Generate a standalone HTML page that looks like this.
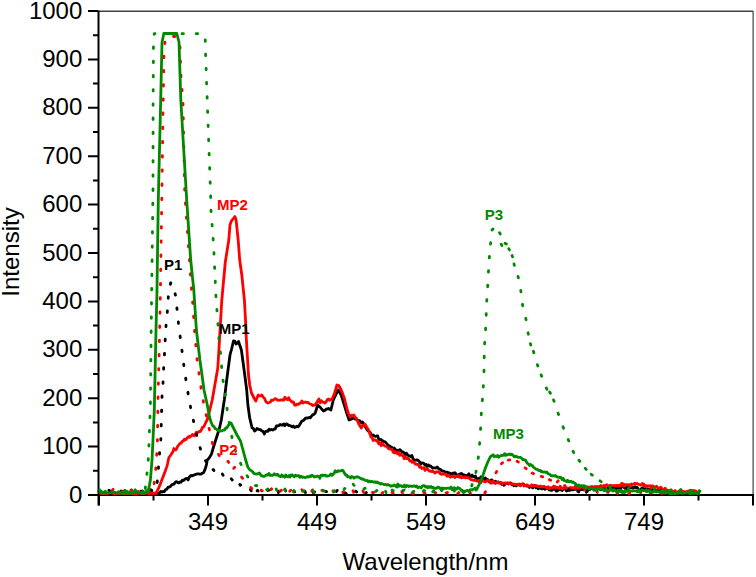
<!DOCTYPE html><html><head><meta charset="utf-8"><style>html,body{margin:0;padding:0;background:#fff;}svg{display:block;}text{font-family:"Liberation Sans",sans-serif;}</style></head><body>
<svg width="756" height="577" viewBox="0 0 756 577">
<rect width="756" height="577" fill="#fff"/>
<path d="M99 11.2H753.1" stroke="#3c4444" stroke-width="1.4" fill="none"/>
<path d="M753.1 11V495" stroke="#4a5656" stroke-width="1.3" fill="none"/>
<path d="M88 495.0H98 M93 470.8H98 M88 446.6H98 M93 422.4H98 M88 398.2H98 M93 374.0H98 M88 349.8H98 M93 325.6H98 M88 301.4H98 M93 277.2H98 M88 253.0H98 M93 228.8H98 M88 204.6H98 M93 180.4H98 M88 156.2H98 M93 132.0H98 M88 107.8H98 M93 83.6H98 M88 59.4H98 M93 35.2H98 M88 11.0H98 M99.0 494V505.5 M153.5 494V500.5 M208.0 494V505.5 M262.5 494V500.5 M317.0 494V505.5 M371.5 494V500.5 M426.0 494V505.5 M480.5 494V500.5 M535.0 494V505.5 M589.5 494V500.5 M644.0 494V505.5 M698.5 494V500.5 M753.0 494V505.5" stroke="#000" stroke-width="2" fill="none"/>
<path d="M98.5 10.5V505.5M97.5 495H753" stroke="#000" stroke-width="2" fill="none"/>
<text x="82.3" y="502.6" font-size="24" text-anchor="end">0</text>
<text x="82.3" y="454.2" font-size="24" text-anchor="end">100</text>
<text x="82.3" y="405.8" font-size="24" text-anchor="end">200</text>
<text x="82.3" y="357.4" font-size="24" text-anchor="end">300</text>
<text x="82.3" y="309.0" font-size="24" text-anchor="end">400</text>
<text x="82.3" y="260.6" font-size="24" text-anchor="end">500</text>
<text x="82.3" y="212.2" font-size="24" text-anchor="end">600</text>
<text x="82.3" y="163.8" font-size="24" text-anchor="end">700</text>
<text x="82.3" y="115.4" font-size="24" text-anchor="end">800</text>
<text x="82.3" y="67.0" font-size="24" text-anchor="end">900</text>
<text x="82.3" y="18.6" font-size="24" text-anchor="end">1000</text>
<text x="208.0" y="530" font-size="24" text-anchor="middle">349</text>
<text x="317.0" y="530" font-size="24" text-anchor="middle">449</text>
<text x="426.0" y="530" font-size="24" text-anchor="middle">549</text>
<text x="535.0" y="530" font-size="24" text-anchor="middle">649</text>
<text x="644.0" y="530" font-size="24" text-anchor="middle">749</text>
<text x="425.5" y="570" font-size="24" text-anchor="middle">Wavelength/nm</text>
<text transform="translate(19 252) rotate(-90)" font-size="24" text-anchor="middle">Intensity</text>
<path d="M99 494 L156.6 494 L159.6 492.8 L160.8 491.4 L162 492.2 L163.2 491.4 L164.4 491.5 L165.6 489.5 L166.8 489.2 L168 487.2 L169.3 487.2 L170.5 486.3 L172 484.7 L173 484.4 L174 484.2 L175 482.6 L176 481.7 L177.1 481.8 L178.1 482.9 L179.2 482.8 L180.2 481.9 L181.2 482.1 L182.3 480.2 L183.5 480.5 L184.8 479.2 L186 478.6 L187.2 478.4 L188.2 479.9 L189.2 477.1 L190.2 476.2 L191.2 475.4 L192.2 475.9 L193.2 475.3 L194.3 475 L195.3 474.3 L196.4 474.1 L197.5 473.8 L198.7 473.9 L199.9 474.1 L201.1 474.2 L202.3 473.2 L203.6 472.6 L205.4 468.4 L206.6 464.1 L207.2 460 L208.4 458.9 L209.6 457.4 L211.5 454 L213.5 447 L217 436 L219.5 428 L221.3 420 L224.3 400 L226.7 380 L230 355 L231.6 349 L233.5 341 L234.8 341.1 L236 344 L237.2 343.3 L238.5 341.5 L241.4 350 L244.1 370 L244.9 376 L246.7 390 L247.9 405 L249.7 418 L252.1 428 L253.3 428.4 L254.6 431 L255.8 430.2 L257 428.5 L258.2 429 L259.4 429.7 L260.6 429.7 L261.8 431 L263 431.3 L264.3 434 L265.5 431.5 L266.7 431.1 L267.9 431.4 L269.1 429.3 L270.3 430 L271.5 429.5 L272.8 430 L274 429.2 L275.2 429 L276.4 426 L277.6 426 L278.9 425.6 L280.1 424.4 L281.3 425 L282.5 425.2 L283.7 423.9 L284.9 425.7 L286.1 424 L287.3 424.1 L288.6 425.5 L289.8 425.5 L291 426 L292.2 427 L293.4 426 L294.6 427.5 L295.8 427 L297 426.2 L298.3 426.7 L299.5 425 L301.9 421 L303.1 420.7 L304.3 419.6 L305.5 418.1 L306.7 418 L307.9 418.1 L309.1 417.4 L310.4 417.8 L311.6 416 L312.8 414.7 L314 414.4 L315.2 413 L317.7 405 L318.9 406.4 L320.1 407 L321.3 408.6 L322.4 409.8 L323.6 411 L324.8 410.5 L326.1 409.2 L327.3 409 L328.5 408.5 L329.7 409.3 L330.9 410 L333.3 400 L338.2 390 L341.2 395 L344.3 405 L346.7 413 L349.1 420 L350.3 419.5 L351.6 419.2 L352.8 417 L354 418.4 L355.2 419.2 L356.4 419 L357.4 420.1 L358.4 420.6 L359.4 420.6 L360.5 421.6 L361.5 422.9 L362.5 422 L367.3 430 L368.5 431.1 L369.8 432.1 L371 434 L372.1 436 L373.2 435 L374.4 436 L375.5 436.3 L376.6 436 L377.7 435.9 L378.8 439.6 L379.9 439.9 L381 439.5 L382.1 440.8 L383.2 441 L384.3 441.9 L385.4 442 L386.5 443.4 L387.6 444.6 L388.7 446.1 L389.8 446 L390.9 447.2 L392 447.4 L393.1 449.1 L394.3 448.1 L395.4 450 L396.5 450 L397.6 451.2 L398.7 450.4 L399.8 449.6 L400.9 450.6 L402 451.9 L403.1 452 L404.2 453.1 L405.3 454.6 L406.4 453.2 L407.5 454.7 L408.6 455.9 L409.7 456 L410.8 456.5 L411.9 455.4 L413 458.6 L414.1 460.5 L415.2 460.1 L416.3 460 L417.4 459.8 L418.5 460.7 L419.6 461.7 L420.7 464 L421.8 463 L422.9 463 L424 463.6 L425.1 465.2 L426.2 464.4 L427.3 466.5 L428.4 465 L429.5 466 L430.6 466 L431.7 467.2 L432.8 468.1 L433.9 467.9 L435 467.9 L436.1 468 L437.2 467 L438.3 468.4 L439.5 469 L440.6 469.6 L441.7 471 L442.8 471 L443.9 471.1 L445 472.3 L446.1 472.1 L447.2 472.1 L448.3 472.8 L449.4 473 L450.5 473.5 L451.6 474 L452.7 473.1 L453.8 473.5 L454.9 472.7 L456 474 L457.1 475.4 L458.2 475.3 L459.3 474.1 L460.4 474 L461.5 473.4 L462.6 474.5 L463.7 474.8 L464.7 475.1 L465.8 476.9 L466.8 475.5 L467.9 474.9 L469 473.8 L470 477.1 L471.1 476.3 L472.1 475.1 L473.2 476.6 L474.3 477 L475.4 475.9 L476.5 480.2 L477.6 478.6 L478.7 478.4 L479.9 478.1 L481 476.8 L482.1 478.7 L483.2 477.8 L484.3 479.8 L485.4 477.9 L486.5 479.9 L487.6 479.4 L488.7 481.4 L489.8 482 L490.9 480.1 L492 480 L493.1 482.3 L494.2 482.5 L495.3 481.3 L496.4 481.8 L497.5 482.1 L498.6 482 L499.7 483.2 L500.8 482.8 L501.9 484.4 L503 484.1 L504.1 485.3 L505.2 483.7 L506.3 483.7 L507.4 483.2 L508.5 484 L509.6 483.1 L510.7 482.9 L511.8 484.9 L512.9 484.5 L514 485.8 L515.1 485.4 L516.2 485.9 L517.3 485.1 L518.4 484.5 L519.5 485.2 L520.6 485 L521.7 484.5 L522.8 484.1 L523.9 484.4 L525 485.7 L526.1 485.8 L527.2 486.1 L528.3 485.8 L529.4 487.4 L530.5 486.6 L531.6 487.1 L532.8 487.8 L533.9 486.3 L535 485.6 L536.1 487.9 L537.2 486.9 L538.3 488.7 L539.4 487.8 L540.5 488.2 L541.6 488.9 L542.7 488.9 L543.8 486.8 L544.9 489.2 L546 488.3 L547.1 488.4 L548.2 488.8 L549.3 489.9 L550.4 490.2 L551.5 490.4 L552.6 489.8 L553.7 488.5 L554.8 489.3 L555.8 487.9 L556.9 489.7 L558 490.2 L559 489.1 L560.1 489.9 L561.2 489.9 L562.3 490.5 L563.4 489 L564.4 489 L565.5 489 L566.6 491 L567.6 490.5 L568.7 489.5 L569.8 489.6 L570.9 489.8 L572 489.7 L573.1 489.8 L574.2 489.4 L575.3 489.3 L576.4 488.6 L577.5 489.1 L578.6 490.9 L579.8 490 L580.9 489.7 L582 489.4 L583.1 489.7 L584.2 489.9 L585.3 489.1 L586.4 489.8 L587.5 489.8 L588.6 489 L589.7 489.6 L590.8 488.9 L591.9 488.7 L593 488.6 L594.1 490.1 L595.2 487.4 L596.3 489.1 L597.4 488.7 L598.5 488.7 L599.6 489.2 L600.7 489.9 L601.8 489.1 L602.9 488.8 L604 488.4 L605.1 488.7 L606.2 489.5 L607.3 488.4 L608.4 487.7 L609.5 488.6 L610.6 487.5 L611.7 487.6 L612.8 487.3 L613.9 489.3 L615 488.6 L616.1 488.1 L617.2 489.4 L618.3 487.6 L619.5 488.7 L620.6 488.7 L621.7 486.8 L622.8 486.7 L623.9 487.1 L625 488.5 L626.1 488.8 L627.2 486.7 L628.3 488.5 L629.4 487.6 L630.5 487.4 L631.6 487.5 L632.7 487.5 L633.8 487.8 L634.9 486.7 L636 487.5 L637.1 487.4 L638.2 488.9 L639.3 490.3 L640.4 490.9 L641.5 488.6 L642.6 487.6 L643.7 488.7 L644.8 488.4 L645.9 490.9 L647 489.8 L648.1 488.9 L649.2 489.6 L650.3 490.5 L651.4 490.3 L652.5 488.7 L653.6 489.7 L654.7 490.1 L655.8 490.4 L656.9 490.6 L658 490.4 L659.1 491 L660.2 490.5 L661.3 490.3 L662.4 492.4 L663.5 491.6 L664.6 491.8 L665.7 490.3 L666.8 491.6 L667.9 492.5 L669 492 L670.1 491 L671.2 493 L672.3 491.9 L673.4 492.6 L674.6 492.2 L675.7 492.6 L676.8 493.4 L677.9 492.2 L679 493.6 L680.1 492 L681.2 492 L682.3 493.4 L683.4 492 L684.6 492.6 L685.7 493.6 L686.8 493.6 L687.9 491.7 L689 493.2 L690.1 493.6 L691.2 493.6 L692.3 493.6 L693.4 493.1 L694.5 492.9 L695.6 493.1 L696.7 492.5 L697.8 493.2 L698.9 493.3 L700 493.5" stroke="#000000" stroke-width="2.8" fill="none" stroke-linejoin="round"/>
<path d="M99 493.5 L100.1 492.3 L101.2 493.6 L102.3 493.3 L103.4 493.1 L104.5 493.6 L105.6 493.6 L106.7 493.3 L107.8 493.6 L108.8 493.1 L109.9 492.5 L111 492.4 L112.1 493.1 L113.2 493.6 L114.3 493.6 L115.4 493.6 L116.5 493.6 L117.6 493.6 L118.7 493.6 L119.8 493.6 L120.9 493.6 L122 493.1 L123.1 493.6 L124.2 493.6 L125.3 493.4 L126.4 493.6 L127.5 493.6 L128.5 493.2 L129.6 493.5 L130.7 493.6 L131.8 493.3 L132.9 493.6 L134 493.6 L135.1 493.6 L136.2 493.6 L137.3 493.2 L138.4 493.2 L139.5 493.4 L140.6 493.3 L141.7 493.6 L142.8 493.6 L143.9 492.8 L145 493.6 L146.1 492.8 L147.1 493 L148.2 493.4 L149.3 493.6 L150.4 493.2 L151.5 491.4 L152.6 493.6 L153.7 493.3 L154.8 493 L155.9 493.5 L158.1 489.2 L160.3 484.1 L162.5 478.3 L164.7 472.5 L166.8 466.6 L167.5 464 L168.9 457.5 L170.8 455 L173.3 451 L173.8 448.5 L175.8 450 L177.9 446 L180 443.3 L181.1 443.1 L182.3 441.3 L183.4 441 L184.4 439.1 L185.4 439.9 L186.3 439.1 L187.3 438 L188.3 436.7 L189.4 437.4 L190.4 436 L191.4 436 L192.5 434.5 L193.5 435 L194.5 435.8 L195.4 434 L196.4 432.2 L197.4 432.5 L198.4 432.3 L199.4 431.4 L200.3 431.5 L201.3 430 L202.5 427.4 L203.7 427 L206 422 L207.6 419 L209.1 413 L212.2 400 L215.2 383 L217.8 368 L219.2 345 L221.8 300 L225.3 262 L228.8 240 L230 225 L231.2 221.4 L233 219 L234.9 216.5 L236.1 220 L238.2 240 L239.7 260 L241.8 275 L244.4 300 L245.5 320 L246.4 340 L247.6 360 L248.5 375 L249.7 385 L251.5 393 L254 398 L255.8 401 L258.2 395 L259.4 395.9 L260.6 395.8 L261.8 395 L263.1 397.1 L264.3 398 L266.1 402 L267.9 403 L269.1 402.5 L270.4 402.1 L271.6 400 L272.8 400.4 L274 399.6 L275.2 398.6 L276.4 399 L277.6 400.2 L278.9 400.3 L280.1 400 L281.3 400 L282.5 399.9 L283.7 400.1 L284.9 397.3 L286.1 399 L287.3 399.6 L288.6 397.7 L289.8 400 L291 400.9 L292.2 402.2 L293.4 402 L294.6 405.1 L295.8 405 L297 404.2 L298.2 404.4 L299.5 403.5 L300.7 403 L301.9 401 L303.1 403.1 L304.3 402.3 L305.5 402 L306.7 402.6 L307.9 402.3 L309.2 403.5 L310.4 404 L311.6 404.4 L312.8 405.6 L314 405 L315.2 405 L318.9 399 L320.1 402.9 L321.3 400.7 L322.5 402 L323.7 402.3 L324.9 403 L326.1 401.7 L327.3 399.7 L328.5 399 L329.7 400.3 L330.9 399.6 L332.1 399 L334.6 393 L337 385 L338.8 385.5 L341.2 390 L344.3 398 L346.7 408 L348.5 414 L350.3 417 L351.5 415.3 L352.8 415.8 L354 415 L355.2 417.5 L356.4 418 L358.8 424 L361.3 428 L362.5 425.6 L363.7 425.5 L364.9 424 L368.5 430 L371 437 L372.1 437.6 L373.2 440.5 L374.4 439.8 L375.5 439.9 L376.6 441 L377.7 441.2 L378.8 443.9 L379.9 442.7 L381 445.6 L382.1 443.1 L383.2 445 L384.3 445.5 L385.4 446.2 L386.5 446.5 L387.6 447.5 L388.7 448.9 L389.8 449 L390.9 449.2 L392 449.2 L393.1 452.1 L394.3 452.9 L395.4 451.8 L396.5 453 L397.6 453.8 L398.7 452 L399.8 455.4 L400.9 454 L402 455.1 L403.1 456 L404.2 458.6 L405.3 456.7 L406.4 458.6 L407.5 458.5 L408.6 458.7 L409.7 461 L410.8 460.6 L411.9 462.3 L413 461.5 L414.1 462.6 L415.2 464.1 L416.3 464 L417.4 464.6 L418.5 464.3 L419.6 467.3 L420.7 466.8 L421.8 468.5 L422.9 468 L424 467.7 L425.1 470.4 L426.2 468.4 L427.3 468.6 L428.4 470.2 L429.5 471 L430.6 470.9 L431.7 471.6 L432.8 471.1 L433.9 472.2 L435 473 L436.1 472 L437.2 471.8 L438.3 471.6 L439.5 472.7 L440.6 474 L441.7 474.4 L442.8 474 L443.9 474.1 L445 473.9 L446.1 475 L447.2 476.2 L448.3 475.1 L449.4 476 L450.5 477.2 L451.6 476.4 L452.7 476.5 L453.8 475.9 L454.9 477.6 L456 476.5 L457.1 476.7 L458.2 475.5 L459.3 477.4 L460.4 476.5 L461.5 477.8 L462.6 477 L463.7 477.4 L464.7 477 L465.8 477.8 L466.8 477.5 L467.9 477.4 L468.9 478.3 L470 478.5 L471.1 479.8 L472.1 479.8 L473.2 480.3 L474.3 480.3 L475.4 480 L476.5 481 L477.6 480.9 L478.7 481.5 L479.9 481.1 L481 482.6 L482.1 479.7 L483.2 481 L484.3 481.5 L485.4 481.9 L486.5 481.2 L487.6 480.2 L488.7 480.6 L489.8 481.7 L490.9 482.8 L492 483 L493.1 481 L494.2 482.5 L495.3 483.5 L496.4 482.8 L497.5 482.1 L498.6 482.5 L499.7 483.2 L500.8 482.2 L501.9 484.3 L503 483.2 L504.1 483.1 L505.2 482.8 L506.3 483.5 L507.4 482.9 L508.5 482.9 L509.6 483.7 L510.7 483.6 L511.8 484.2 L512.9 483.9 L514 484.2 L515.1 485.1 L516.2 484.2 L517.3 484.6 L518.4 484.7 L519.5 483.9 L520.6 485.7 L521.7 484.3 L522.8 483.6 L523.9 486 L525 485.7 L526.1 485.2 L527.2 484.9 L528.3 486.2 L529.4 486.3 L530.5 486.2 L531.6 484.8 L532.8 486 L533.9 485.2 L535 485.6 L536.1 485.8 L537.2 485.6 L538.3 486.8 L539.4 486.5 L540.5 486 L541.6 487.2 L542.7 486.8 L543.8 486.3 L544.9 487 L546 487.4 L547.1 487.9 L548.2 486.8 L549.3 488.5 L550.4 487.6 L551.5 488.2 L552.6 487.2 L553.7 486.2 L554.8 486.4 L555.8 488.3 L556.9 487.2 L558 487.7 L559 488.4 L560.1 486.2 L561.2 487.8 L562.3 489 L563.4 488.1 L564.4 487.6 L565.5 488 L566.6 487.6 L567.6 488.2 L568.7 488.7 L569.8 487.6 L570.9 487.5 L572 488.1 L573.1 487.9 L574.2 488.2 L575.3 488.3 L576.4 486.8 L577.5 488.6 L578.6 488.3 L579.8 486.7 L580.9 487.4 L582 486.5 L583.1 487.4 L584.2 487.9 L585.3 486.7 L586.4 487 L587.5 486.9 L588.6 487.1 L589.7 487.6 L590.8 486.9 L591.9 486.5 L593 487.8 L594.1 487 L595.2 486.4 L596.3 487.8 L597.4 486.4 L598.5 487.5 L599.6 486.6 L600.7 485.5 L601.8 487.5 L602.9 485.9 L604 485.4 L605.1 486.4 L606.2 484.9 L607.3 485 L608.4 485.9 L609.5 485.6 L610.6 485.2 L611.7 485.9 L612.8 485.6 L613.9 485.7 L615 485.5 L616.1 485.9 L617.2 485.3 L618.3 486.2 L619.4 485.2 L620.5 485.9 L621.6 483.5 L622.7 483.6 L623.8 486.2 L625 484.5 L626.1 485 L627.2 484.7 L628.3 484.9 L629.4 484.6 L630.5 486.3 L631.6 483.9 L632.6 484.4 L633.7 484.2 L634.8 483.3 L635.9 484 L637 483.5 L638.1 484.1 L639.1 484.5 L640.2 485 L641.3 484.8 L642.4 483.5 L643.6 484 L644.7 486.8 L645.8 485.5 L646.9 486.5 L648.1 485.7 L649.2 486.2 L650.2 485.8 L651.3 488.3 L652.4 485.8 L653.4 486.2 L654.5 487.7 L655.5 487.3 L656.6 486.2 L657.6 487.8 L658.7 488.4 L659.7 488 L660.8 487.2 L661.9 488.4 L663 489.9 L664.1 491.2 L665.2 488.2 L666.3 490.5 L667.4 490.1 L668.5 490.9 L669.6 490.3 L670.7 490.5 L671.8 491 L672.9 491.5 L674 491.9 L675.1 490.5 L676.2 492 L677.3 491.9 L678.4 491.8 L679.5 491 L680.6 492.3 L681.7 490.8 L682.8 491.2 L683.9 492.2 L685 492.5 L686.1 491.5 L687.2 492.2 L688.3 491 L689.5 490.9 L690.6 490.1 L691.7 490.8 L692.8 491 L693.9 490.5 L695 491 L696.1 491.2 L697.2 492.4 L698.3 492.5 L699.4 492" stroke="#ff0000" stroke-width="2.8" fill="none" stroke-linejoin="round"/>
<path d="M99 491 L100.1 491.7 L101.2 492.2 L102.3 490.3 L103.4 490.2 L104.5 491.3 L105.6 492.6 L106.7 491.4 L107.8 490 L108.9 490.3 L110 491 L111.1 491.9 L112.2 491 L113.3 490.7 L114.4 490.8 L115.5 491.2 L116.6 490.4 L117.7 491 L118.8 491.3 L119.9 492.5 L121 491 L122.1 491.9 L123.2 490.1 L124.3 491.8 L125.4 491.2 L126.5 490.6 L127.5 491 L128.6 491.8 L129.7 490.7 L130.8 491.9 L131.9 492.4 L133 492.5 L134.1 492.5 L135.2 489.9 L136.3 491.3 L137.4 490.4 L138.5 491.9 L139.6 491.1 L140.7 491.2 L141.8 491.4 L142.9 490.5 L144 491.1 L145.1 490.4 L146.2 492.9 L147.3 490.6 L148.4 491 L149.5 489.5 L150.6 489.7 L151.7 490.3 L152.8 491.7 L153.9 491.7 L155 491 L157.2 482.6 L158.4 468.6 L159.5 454 L160.8 440.5 L162 397 L163 383 L163.6 369 L164.5 354 L165.2 340 L166 326 L167.3 312 L168.3 297 L170.6 283 L172.5 283 L175.9 297 L177.3 312 L178.7 326 L180.6 340 L182.4 354 L184.3 369 L186.4 383 L188.5 396 L191.2 410.7 L194.3 424.5 L197.5 438.5 L201 451 L205 460 L206.1 461.6 L207.1 462.2 L208.2 465.8 L209.3 464.6 L210.3 466.1 L211.4 468.2 L212.4 469.8 L213.5 469.6 L214.5 471.9 L215.5 473.6 L216.6 473.8 L217.6 475 L218.7 475.7 L219.8 475.7 L221 475.4 L222.1 473.5 L223.2 475.5 L224.3 476.9 L225.5 475.8 L226.6 477.5 L227.7 477.6 L228.8 478.8 L230 480.4 L231.1 478.6 L232.2 479.9 L233.3 481.1 L234.5 481.9 L235.6 482 L236.7 481.4 L237.9 484.8 L239 483 L240.2 485.3 L241.3 484.7 L242.5 485.8 L243.6 486 L244.7 488.2 L245.7 487.9 L246.8 488.1 L247.8 487.7 L248.9 488.7 L249.9 488.6 L251 490.5 L252.1 492.3 L253.2 489.2 L254.3 488.3 L255.4 492.1 L256.4 491.8 L257.5 490.3 L258.6 491.4 L259.7 490 L260.8 490.2 L261.9 491.2 L263 491.1 L264.1 490.4 L265.2 492.3 L266.2 491.5 L267.3 491 L268.4 489.8 L269.5 491 L270.6 490.6 L271.7 490.9 L272.8 491.7 L273.9 490.5 L275 491.3 L276 491.8 L277.1 491.4 L278.2 493.1 L279.3 489.6 L280.4 491.1 L281.5 490.1 L282.6 491.1 L283.7 493.4 L284.8 489.8 L285.8 491 L286.9 491.8 L288 491.4 L289.1 492.1 L290.2 489.9 L291.3 492.2 L292.4 490.5 L293.5 490.3 L294.6 491.9 L295.6 491.9 L296.7 490.8 L297.8 490.7 L298.9 491.3 L300 491.5 L301.1 491.5 L302.2 491.4 L303.3 490.7 L304.4 489.5 L305.5 492.8 L306.6 491.8 L307.7 490.5 L308.8 490.2 L309.9 491 L311 491.3 L312.1 489.8 L313.2 493 L314.3 492.1 L315.4 491.5 L316.5 492.1 L317.5 492 L318.6 492.7 L319.7 491.9 L320.8 493 L321.9 493.2 L323 491.6 L324.1 491.5 L325.2 491.1 L326.3 491.7 L327.4 491.3 L328.5 491.9 L329.6 492.2 L330.7 492.4 L331.8 490.9 L332.9 493 L334 491.7 L335.1 491.9 L336.2 491.6 L337.3 490.3 L338.4 492.3 L339.5 490.5 L340.6 493.1 L341.7 492.2 L342.8 493.5 L343.9 492.7 L345 492.8 L346.1 493.4 L347.2 492.2 L348.3 493.6 L349.4 492.1 L350.5 492.5 L351.5 491.7 L352.6 492.8 L353.7 492.9 L354.8 491.9 L355.9 491.2 L357 492.3 L358.1 492.7 L359.2 492.2 L360.3 491.5 L361.4 491.8 L362.5 492.2 L363.6 490.1 L364.7 491.9 L365.8 493.6 L366.9 491.3 L368 492.5" stroke="#000000" stroke-width="2.8" fill="none" stroke-linejoin="round" stroke-dasharray="1.5 12.7" stroke-linecap="round" stroke-dashoffset="0.57"/>
<path d="M556 491 L557.1 491 L558.2 490.4 L559.3 491.4 L560.4 492.2 L561.5 492.5 L562.5 491.6 L563.6 491.1 L564.7 490.9 L565.8 490.7 L566.9 490.2 L568 489.7 L569.1 489.5 L570.2 492.1 L571.3 491.1 L572.4 492.1 L573.5 489.9 L574.5 491.5 L575.6 491.2 L576.7 491.9 L577.8 491.1 L578.9 492.2 L580 492.2 L581.1 492.5 L582.2 489.5 L583.3 490.3 L584.4 492.7 L585.5 493.6 L586.5 491.9 L587.6 491.1 L588.7 492.5 L589.8 491.7 L590.9 491.7 L592 491.5" stroke="#000000" stroke-width="2.8" fill="none" stroke-linejoin="round" stroke-dasharray="1.5 12.7" stroke-linecap="round"/>
<path d="M99 491 L100.1 491.5 L101.2 490.9 L102.2 493.6 L103.3 491.5 L104.4 491.2 L105.5 491.4 L106.6 490.5 L107.7 490.3 L108.7 491.5 L109.8 490.6 L110.9 491.8 L112 490.8 L113.1 489.3 L114.1 489.8 L115.2 490.2 L116.3 489.1 L117.4 490.9 L118.5 490.7 L119.6 491.9 L120.6 490.2 L121.7 490.8 L122.8 491.5 L123.9 491.7 L125 490 L126 492.4 L127.1 490.4 L128.2 492.1 L129.3 490.7 L130.4 490.6 L131.4 489.8 L132.5 490.9 L133.6 493.3 L134.7 490.4 L135.8 492.4 L136.9 492.3 L137.9 490.6 L139 492.1 L140.1 492.3 L141.2 490.7 L142.3 490.5 L143.3 492.1 L144.4 491.3 L145.5 493 L146.6 491.4 L147.7 489.9 L148.8 491 L149.8 489.9 L150.9 491.7 L152 491 L154 484.7 L155.6 471 L156.6 456 L157.4 441.5 L158 399 L159.4 342 L160.4 290 L161.8 199 L163 113 L164 50 L165.5 38 L167 36.5 L177 36.5 L180 47 L181 76 L183 104 L184.7 190 L185.5 204 L191.6 290 L192.9 305 L194.7 333 L197.3 362 L201.2 389 L203.7 403.5 L206.7 417.5 L209.7 431 L212.8 445 L216 452 L217.1 453.9 L218.2 454 L219.3 455.6 L220.3 455.6 L221.3 458 L222.3 457.6 L223.3 460 L224.3 459.6 L225.3 459.4 L226.3 460.8 L227.4 461.3 L228.4 461.6 L229.4 465.8 L230.4 464 L231.5 466.8 L232.6 465.9 L233.7 468.4 L234.7 467.2 L235.8 471.3 L236.9 472.4 L238 472.6 L239.1 473.6 L240.2 474.9 L241.3 476.7 L242.5 478.2 L243.6 478.8 L244.7 479.6 L245.8 481.7 L246.8 482.6 L247.9 483.6 L248.9 485.9 L249.9 486.4 L251 487.7 L252 488.6 L253.1 487.3 L254.2 488.8 L255.2 489.1 L256.3 489.2 L257.4 490 L258.5 489.9 L259.6 489.7 L260.7 488.6 L261.7 490.9 L262.8 490.9 L263.9 489.6 L265 490.7 L266.1 489.2 L267.2 488.9 L268.2 489.9 L269.3 491.6 L270.4 490 L271.5 488.7 L272.6 490.4 L273.7 489.6 L274.7 489.5 L275.8 490.5 L276.9 488.6 L278 488.5 L279.1 488.9 L280.2 491.3 L281.2 490.4 L282.3 489.7 L283.4 489.6 L284.5 490.9 L285.6 491.5 L286.7 489.6 L287.7 490.6 L288.8 492.6 L289.9 490.9 L291 490.1 L292.1 490.7 L293.2 490.5 L294.2 491 L295.3 490.7 L296.4 490 L297.5 490.3 L298.6 490.8 L299.7 489.8 L300.7 490.5 L301.8 489.6 L302.9 491.7 L304 492 L305.1 489.7 L306.2 491.3 L307.2 490.7 L308.3 490.6 L309.4 490.3 L310.5 490.8 L311.6 491.5 L312.7 489.4 L313.7 491.6 L314.8 490.4 L315.9 489.6 L317 490.6 L318.1 491.2 L319.2 490.6 L320.2 490.9 L321.3 490.4 L322.4 490.2 L323.5 491.6 L324.6 489.8 L325.7 491.6 L326.7 491 L327.8 490.5 L328.9 490.5 L330 490.7 L331.1 490.5 L332.2 490.8 L333.3 490.8 L334.3 490.8 L335.4 489.1 L336.5 489 L337.6 491.4 L338.7 490.5 L339.8 490.6 L340.9 491 L342 490.2 L343 492.7 L344.1 491.3 L345.2 491.2 L346.3 490.4 L347.4 492.2 L348.5 492.1 L349.6 492.9 L350.7 492.4 L351.7 490.8 L352.8 490.4 L353.9 492.9 L355 491.1 L356.1 491.6 L357.2 491.6 L358.3 492.3 L359.3 492.4 L360.4 490.9 L361.5 491.4 L362.6 490.4 L363.7 492.6 L364.8 491.9 L365.9 490.5 L367 493.1 L368 492.2 L369.1 491.3 L370.2 491.9 L371.3 491.8 L372.4 492.5 L373.5 492.6 L374.6 491.9 L375.7 492.9 L376.7 490.1 L377.8 492.3 L378.9 493.2 L380 492.6 L381.1 493.5 L382.2 493.4 L383.3 491.7 L384.4 491.1 L385.4 492.4 L386.5 493.6 L387.6 492.9 L388.7 492 L389.8 491.1 L390.9 492.8 L392 492.3 L393.1 493.2 L394.1 492.9 L395.2 490.5 L396.3 492.6 L397.4 493.5 L398.5 492.2 L399.6 491.6 L400.7 491.7 L401.8 491.5 L402.8 493.6 L403.9 493.6 L405 492.2 L406.1 493.6 L407.2 491.8 L408.3 492.3 L409.4 492.1 L410.5 492.6 L411.5 493.4 L412.6 493.6 L413.7 493.5 L414.8 492.7 L415.9 492.9 L417 492.6 L418.1 493.1 L419.2 492 L420.3 493 L421.3 493.2 L422.4 493.6 L423.5 492.1 L424.6 493.2 L425.7 493.1 L426.8 492.1 L427.9 491 L429 492.3 L430 493.6 L431.1 492.6 L432.2 493.6 L433.3 493.4 L434.4 492.2 L435.5 492.8 L436.6 493.3 L437.7 493.3 L438.7 492.7 L439.8 493.3 L440.9 493.6 L442 493.6 L443.1 493 L444.2 492.5 L445.3 491.3 L446.4 493.1 L447.5 492.5 L448.5 492.9 L449.6 492.4 L450.7 493.6 L451.8 493.6 L452.9 492.3 L454 491.7 L455.1 493.2 L456.2 493.6 L457.2 493.3 L458.3 493.4 L459.4 491.7 L460.5 492.5 L461.6 493.5 L462.7 493.3 L463.8 493 L464.9 493.5 L465.9 493.6 L467 493.1 L468.1 492.3 L469.2 491.7 L470.3 493.2 L471.4 492.8 L472.5 492.8 L473.6 493.6 L474.6 492.4 L475.7 492.8 L476.8 493.6 L477.9 492.2 L479 493" stroke="#ff0000" stroke-width="2.8" fill="none" stroke-linejoin="round" stroke-dasharray="1.5 12.7" stroke-linecap="round" stroke-dashoffset="9.48"/>
<path d="M484.74 493.06L485.46 491.74M490.34 482.96L491.06 481.64M495.92 472.85L496.68 471.55M501.46 463.72L502.54 462.68M508.25 460.08L509.75 459.92M517.03 461.27L518.37 461.93M525.01 467.74L526.19 468.66M532.23 473.06L533.57 473.74M541.30 476.33L542.70 476.87M549.31 479.61L550.69 480.19" stroke="#ff0000" stroke-width="2.8" stroke-linecap="round" fill="none"/>
<path d="M557.2 481.9 L558.3 480.8 L559.3 484 L560.4 483.3 L561.5 482.7 L562.5 484.5 L563.6 483 L564.7 486.4 L565.7 485.2 L566.8 484.9 L567.9 486.1 L568.9 484.6 L570 486 L571.1 486.7 L572.2 487.4 L573.3 487.5 L574.4 487.3 L575.6 486 L576.7 487.5 L577.8 486.1 L578.9 487.8 L580 487.2 L581.1 487.3 L582.2 488.9 L583.3 490.3 L584.4 490 L585.6 488.5 L586.7 488.6 L587.8 488.3 L588.9 488.8 L590 489.5 L591.1 490 L592.2 490.7 L593.3 490.2 L594.4 490.9 L595.6 490.2 L596.7 491.1 L597.8 493.1 L598.9 493.5 L600 492.5 L601.1 493 L602.2 492.7 L603.3 492.8 L604.3 492 L605.4 491.5 L606.5 493.1 L607.6 491.6 L608.7 493 L609.8 491.5 L610.9 492.6 L612 493.6 L613 493.2 L614.1 492.6 L615.2 492.9 L616.3 491.2 L617.4 493.5 L618.5 492 L619.6 491.9 L620.7 492 L621.7 492.8 L622.8 492.1 L623.9 492.1 L625 493.1 L626.1 492.9 L627.2 493.6 L628.3 493.5 L629.3 493.6 L630.4 491.7 L631.5 492.8 L632.6 493.3 L633.7 493.6 L634.8 492.5 L635.9 493.4 L637 493.6 L638 492 L639.1 492.1 L640.2 492.1 L641.3 493.1 L642.4 491.8 L643.5 492.9 L644.6 492.4 L645.7 492 L646.7 491.3 L647.8 493.6 L648.9 493.6 L650 493.6 L651.1 491.5 L652.2 493.6 L653.3 492.6 L654.3 491.8 L655.4 492.4 L656.5 492.5 L657.6 493.6 L658.7 493.1 L659.8 493 L660.9 493.4 L662 493.4 L663 491.9 L664.1 493.6 L665.2 493.2 L666.3 493.6 L667.4 493.6 L668.5 492.8 L669.6 493.6 L670.7 492.8 L671.7 492.8 L672.8 491.1 L673.9 493.6 L675 492.9 L676.1 492.6 L677.2 492.6 L678.3 493.6 L679.3 493.6 L680.4 493.6 L681.5 492.9 L682.6 492.6 L683.7 491.5 L684.8 492.6 L685.9 493.6 L687 492.9 L688 493.6 L689.1 493.6 L690.2 493 L691.3 493.6 L692.4 493.5 L693.5 492.6 L694.6 493 L695.7 491.9 L696.7 493 L697.8 493.6 L698.9 492.9 L700 493.3" stroke="#ff0000" stroke-width="2.8" fill="none" stroke-linejoin="round" stroke-dasharray="1.5 12.7" stroke-linecap="round"/>
<path d="M99 492 L100.1 493.6 L101.2 491 L102.3 492.2 L103.4 491.7 L104.5 491.1 L105.6 491.3 L106.7 491.4 L107.8 491.7 L108.9 492.1 L110 492.7 L111 491.9 L112.1 492.7 L113.2 492.1 L114.3 491.7 L115.4 491.4 L116.5 490.7 L117.6 490.1 L118.7 491.5 L119.8 491.4 L120.9 491.8 L122 491.7 L123.1 490.3 L124.2 490.8 L125.3 490.4 L126.4 492.2 L127.5 491.2 L128.6 491.4 L129.7 490.5 L130.8 490.1 L131.9 490.7 L133 491.1 L134 491.6 L135.1 489.8 L136.2 491.4 L137.3 490.3 L138.4 490.6 L139.5 490.8 L140.6 490.7 L141.7 491.4 L142.8 491.8 L143.9 491.3 L145 491 L146.6 477 L148.1 462.8 L148.8 448.3 L150.4 406 L151.1 334 L153 190 L153.1 105 L153.5 40 L154.3 33.6 L204 33.7 L205.2 38.5 L205.6 54 L207.6 111 L210.7 197 L211 211 L212.9 235 L214 254 L215.3 282 L216 297 L217 311 L218 325 L219 340 L220.6 354 L221.8 369 L223.3 383 L225.5 396.5 L227.3 410.5 L229.5 425 L232.2 438.4 L236 452.7 L241.5 465.5 L247.8 477 L248.9 477.7 L249.9 479.8 L251 481 L252 482.7 L253.1 483.4 L254.1 483 L255.2 485.7 L256.3 485.4 L257.4 486.1 L258.5 487.7 L259.6 487.2 L260.7 488.5 L261.8 488.4 L262.9 487.5 L264 489 L265.1 489.1 L266.2 489.7 L267.3 489.6 L268.4 488.1 L269.6 489.9 L270.7 489.1 L271.8 487.8 L272.9 489.3 L274 490 L275.1 488.3 L276.2 489 L277.2 491.5 L278.3 492.5 L279.4 491.3 L280.5 490.8 L281.6 492.2 L282.7 490.9 L283.8 489.8 L284.8 488.6 L285.9 491.7 L287 491 L288.1 488.9 L289.2 488.4 L290.2 490.4 L291.3 491 L292.4 490.2 L293.5 491.9 L294.6 490.9 L295.7 491.1 L296.7 491.3 L297.8 490.4 L298.9 491.1 L300 493 L301.1 490.1 L302.1 491.1 L303.2 491.4 L304.3 490.5 L305.4 490.9 L306.5 489.4 L307.6 490.6 L308.6 491 L309.7 491.9 L310.8 491.8 L311.9 490.4 L313 490 L314 492.6 L315.1 491.7 L316.2 489.2 L317.3 490.6 L318.4 490.1 L319.4 490.4 L320.5 489.4 L321.6 490.6 L322.7 490.5 L323.8 490.7 L324.9 491.9 L325.9 491.2 L327 489.9 L328.1 489.4 L329.2 490.5 L330.3 492 L331.3 491.8 L332.4 490.4 L333.5 492 L334.6 491.3 L335.7 490.4 L336.8 491.3 L337.8 490.9 L338.9 490 L340 491 L341.1 490.2 L342.3 490.3 L343.4 490.9 L344.6 488.4 L345.8 489.1 L346.9 488.5 L348.1 487.5 L349.3 486.4 L350.4 484.4 L351.6 485.6 L352.8 483.5 L353.8 485.1 L354.9 485.9 L355.9 485.4 L357 486.8 L358 486 L359 487 L360 487.9 L361 487.2 L362 488.2 L363 488.2 L364 489 L365.1 488.2 L366.3 489 L367.4 488.6 L368.6 488.8 L369.7 489.7 L370.9 489.7 L372 490.5 L373.1 492.3 L374.2 492.1 L375.3 491.5 L376.3 491.2 L377.4 489.7 L378.5 490.7 L379.6 489.2 L380.7 489.9 L381.8 490 L382.8 490.1 L383.9 491.3 L385 489.8 L386.1 492.7 L387.2 490 L388.3 491.2 L389.3 489 L390.4 491.3 L391.5 489.4 L392.6 490.7 L393.7 490.5 L394.8 491.2 L395.9 491 L396.9 490.8 L398 490.3 L399.1 492.3 L400.2 490.1 L401.3 490.5 L402.4 490.1 L403.4 490.6 L404.5 489.6 L405.6 490.1 L406.7 490.9 L407.8 490 L408.9 490.9 L410 490 L411 491.8 L412.1 490.4 L413.2 492.1 L414.3 490.9 L415.4 490.4 L416.5 491.3 L417.5 491.5 L418.6 491.9 L419.7 491.7 L420.8 491.3 L421.9 489.4 L423 491.3 L424 490.4 L425.1 490.9 L426.2 491.6 L427.3 489.8 L428.4 491.7 L429.5 492.7 L430.6 491 L431.6 490.2 L432.7 491.7 L433.8 490.6 L434.9 491.4 L436 491.6 L437.1 489.1 L438.1 490.8 L439.2 489.1 L440.3 489.8 L441.4 491 L442.5 489.4 L443.6 489.8 L444.7 490.1 L445.7 490.8 L446.8 490.8 L447.9 490.9 L449 490 L450.1 489.8 L451.2 490.8 L452.2 489.7 L453.3 489.7 L454.4 491.1 L455.5 489.8 L456.6 489.7 L457.7 491.5 L458.7 490.4 L459.8 488.5 L460.9 489.8 L462 490.5 L463 492.2 L464 493 L465 490.2 L466 490.5" stroke="#008a00" stroke-width="2.8" fill="none" stroke-linejoin="round" stroke-dasharray="1.5 12.7" stroke-linecap="round" stroke-dashoffset="11.11"/>
<path d="M471.68 485.92L472.12 484.48M475.83 472.53L476.17 471.07M478.21 458.44L478.39 456.96M479.54 444.25L479.66 442.75M480.56 429.45L480.64 427.95M481.25 414.75L481.35 413.25M482.35 400.75L482.45 399.25M483.26 387.05L483.34 385.55M483.98 371.75L484.02 370.25M484.18 357.75L484.22 356.25M484.66 343.95L484.74 342.45M485.56 329.75L485.64 328.25M486.17 315.25L486.23 313.75M486.76 301.15L486.84 299.65M487.66 286.75L487.74 285.25M488.46 272.15L488.54 270.65M489.34 257.95L489.46 256.45M490.52 244.05L490.68 242.55M491.99 230.05L493.01 228.95M499.52 232.65L500.28 233.95M501.13 244.14L501.87 245.46M505.05 243.32L506.35 244.08M508.75 248.64L509.45 249.96M512.06 255.49L512.54 256.91M514.00 263.88L514.40 265.32M518.02 276.47L518.38 277.93M520.78 290.46L521.02 291.94M522.47 304.26L522.73 305.74M525.76 318.26L526.04 319.74M528.06 332.76L528.34 334.24M530.39 343.58L530.81 345.02M533.36 351.29L533.84 352.71M537.36 364.59L537.84 366.01M541.13 374.90L541.67 376.30M546.26 387.93L546.94 389.27M549.61 392.06L550.39 393.34M553.53 399.90L554.07 401.30M558.05 413.09L558.55 414.51M563.03 426.80L563.57 428.20M568.21 439.51L568.79 440.89M573.05 451.24L573.75 452.56M578.96 460.19L579.84 461.41M585.20 468.24L586.20 469.36M591.13 474.22L592.27 475.18M600.00 480.85L601.20 481.75" stroke="#008a00" stroke-width="2.8" stroke-linecap="round" fill="none"/>
<path d="M609.5 486.6 L610.5 486.5 L611.6 485.6 L612.6 488.9 L613.7 490.9 L614.8 488.8 L615.8 489.9 L616.9 490.3 L617.9 490.1 L619 490.5 L620 490 L621.1 491.2 L622.2 489.8 L623.3 488.5 L624.4 488.4 L625.5 490.7 L626.6 490.5 L627.7 490.1 L628.8 487.9 L629.9 489.9 L631 490.1 L632.1 489.2 L633.2 489.4 L634.2 492.3 L635.3 491.5 L636.4 491 L637.5 490.5 L638.6 489.8 L639.7 489.9 L640.8 490.9 L641.9 489.4 L643 490.1 L644.1 491.9 L645.2 489 L646.3 489.6 L647.4 492.1 L648.5 490.7 L649.6 490.5 L650.7 489.6 L651.8 489 L652.9 491.6 L654 487.9 L655.1 490.9 L656.2 489.9 L657.3 490.4 L658.4 488.4 L659.5 491.4 L660.5 491.1 L661.6 490.8 L662.7 490.9 L663.8 489.2 L664.9 490.7 L666 491 L667.1 490.5 L668.2 487.5 L669.3 490.5 L670.4 490.7 L671.5 489.5 L672.6 490.7 L673.7 491.9 L674.8 490.6 L675.9 492 L677 490.2 L678.1 490 L679.2 491 L680.3 489.9 L681.4 489.1 L682.5 491.1 L683.6 490.8 L684.7 491.4 L685.8 490 L686.8 490.4 L687.9 491.3 L689 490.4 L690.1 490.7 L691.2 491.1 L692.3 490.2 L693.4 491.2 L694.5 489.5 L695.6 491.4 L696.7 493.6 L697.8 491.6 L698.9 490.6 L700 491" stroke="#008a00" stroke-width="2.8" fill="none" stroke-linejoin="round" stroke-dasharray="1.5 12.7" stroke-linecap="round"/>
<path d="M99 489 L101 492.5 L102.1 492.4 L103.2 493.6 L104.3 492 L105.4 491.3 L106.5 492.7 L107.6 493 L108.7 492.8 L109.8 492.9 L110.9 492.5 L112 492.1 L113 492 L114.1 492.4 L115.2 492.3 L116.3 493.2 L117.4 493 L118.5 491.7 L119.6 493.1 L120.7 492.6 L121.8 493.4 L122.9 493.6 L124 493 L125.1 491.3 L126.2 493 L127.3 491.5 L128.4 493.6 L129.5 492.1 L130.6 492.4 L131.7 493.6 L132.8 491.3 L133.9 492.6 L135 491.8 L136 492.2 L137.1 492 L138.2 493.1 L139.3 492.4 L140.4 492.8 L141.5 493 L142.6 491.4 L143.7 493.6 L144.8 492.4 L145.9 491.4 L147 492.5 L148.3 491 L150.4 480 L152 460 L153 440 L154.3 410 L156 330 L156.9 295 L158.3 200 L160.7 100 L162 42.5 L163.8 33.5 L176.8 33.5 L179 42 L180.8 100 L186.7 200 L190.7 260 L193.8 290 L196.4 330 L199.9 360 L202 375 L204 390 L207.3 405 L209.1 415 L211 422 L212.8 426 L214 426.6 L215.2 428.7 L216.4 429 L217.6 430.5 L218.8 429.9 L220 431 L221.2 430.8 L222.5 430.6 L223.7 430 L224.8 429.8 L225.8 428 L226.9 427.8 L228 426 L229 424.4 L230 423.6 L231 423 L234 429 L237 435 L240.5 441 L243 450 L245.7 460 L247.8 467 L249.9 470 L252 471 L253.1 472.6 L254.1 473.6 L255.2 474 L256.2 473.8 L257.3 474 L258.3 473.5 L259.4 473 L260.5 474.6 L261.5 475.9 L262.6 476 L263.7 476.3 L264.7 476.3 L265.8 475.2 L266.8 474.9 L267.9 475 L269 473.4 L270 475.4 L271.1 475.1 L272.1 475.5 L273.2 475 L274.3 473.8 L275.3 474.9 L276.4 475 L277.4 474.2 L278.5 475.5 L279.6 476.3 L280.6 476.7 L281.7 475 L282.7 476.3 L283.8 476 L284.8 477.2 L285.9 475 L286.9 476.5 L288 476.8 L289 475.5 L290.1 477 L291.2 474.8 L292.3 475 L293.3 476 L294.4 476.8 L295.5 475.1 L296.6 476 L297.7 475.7 L298.8 475.6 L299.9 477.4 L301 476.3 L302.1 477.3 L303.2 477 L304.3 477.4 L305.4 477.6 L306.5 476.9 L307.6 476.7 L308.7 477.1 L309.8 476 L310.9 476.5 L312 475.3 L313.1 475.9 L314.3 477.1 L315.4 476.6 L316.5 476.5 L317.6 476.1 L318.7 476.3 L319.8 478.2 L320.8 475.5 L321.9 475.7 L323 475 L324.1 475.5 L325.2 475.1 L326.4 476.2 L327.5 476 L328.6 475.8 L329.7 475.5 L330.8 474 L331.9 475.3 L333 474.4 L334.1 473.2 L335.2 470.7 L336.3 472 L337.3 471.8 L338.3 470.7 L339.3 471.2 L340.3 471 L341.6 470.5 L342.9 470.5 L345.6 475 L346.6 475 L347.6 476.8 L348.5 476.7 L349.5 477 L350.6 478 L351.7 476.4 L352.8 476.9 L353.9 478.1 L355 477.3 L356.1 477 L357.2 476.9 L358.3 477.1 L359.5 477.7 L360.6 478.4 L361.7 479.2 L362.8 479 L363.9 479.5 L365 480.3 L366.1 480.7 L367.2 480.5 L368.3 481.7 L369.4 481 L370.5 481.9 L371.6 481.4 L372.7 481.7 L373.8 482.1 L374.9 481.8 L376 482.5 L377.1 481.9 L378.2 483.1 L379.3 483 L380.4 484 L381.5 483.4 L382.6 484 L383.7 484.4 L384.7 484.7 L385.8 484.4 L386.8 485.1 L387.9 484.6 L388.9 485.1 L390 485.5 L391.1 486.2 L392.2 485.9 L393.3 485.6 L394.4 485 L395.6 486.1 L396.7 487 L397.8 484 L398.9 486.3 L400 485.5 L401.1 485.8 L402.2 486.5 L403.3 486.6 L404.4 485.1 L405.6 487.1 L406.7 485.5 L407.8 485.8 L408.9 486.5 L410 486 L411.1 486.1 L412.2 486.5 L413.3 486 L414.4 485.8 L415.6 486.6 L416.7 486 L417.8 487.8 L418.9 487.1 L420 487 L421.1 488.1 L422.2 486.3 L423.3 485.7 L424.4 485.7 L425.6 487.1 L426.7 486.5 L427.8 487.7 L428.9 486.5 L430 487.5 L431.1 486.6 L432.2 487.9 L433.3 487.5 L434.4 488.3 L435.6 488.4 L436.7 488.2 L437.8 487.1 L438.9 487.4 L440 488 L441.1 489.8 L442.2 488 L443.3 488.5 L444.4 488.4 L445.6 488.3 L446.7 488.3 L447.8 488.1 L448.9 488.1 L450 488.5 L451.1 487.1 L452.2 489.8 L453.3 488.5 L454.4 487.6 L455.6 488.9 L456.7 489.1 L457.8 487.5 L458.9 488.2 L460 488.5 L461 490.3 L462 490.3 L463 490.8 L464 491.1 L465 491.7 L465.9 490.8 L466.9 490.5 L467.9 490.5 L469 491.5 L470 489.9 L471.1 489.7 L472.1 490 L473.2 489.2 L474.2 489.1 L475.2 488 L476.2 490.1 L477.2 488.5 L479.8 483.2 L482.5 476.6 L485.1 468.7 L487.8 462 L490.4 456.7 L491.8 455.8 L493.1 454.8 L494.4 456.8 L495.7 456.1 L496.7 456.5 L497.7 455.5 L498.7 457.3 L499.7 456.1 L500.7 455.8 L501.7 455.1 L502.7 455.5 L503.7 455.2 L504.7 453.6 L505.6 455.4 L506.6 454.5 L507.6 454.8 L508.6 454.5 L509.6 453.9 L510.6 454.8 L511.6 454.1 L512.6 454.9 L513.6 456 L514.6 456.9 L515.6 456.1 L516.6 456.7 L517.5 456.9 L518.5 457.4 L519.5 457.4 L520.5 457.4 L521.5 458.1 L522.5 459.5 L523.5 459.4 L524.5 459.9 L525.5 460.1 L526.5 462.2 L527.5 463.4 L528.5 464.1 L529.5 465.5 L530.4 464.4 L531.4 465.3 L532.4 465.6 L533.4 467.1 L534.4 467.8 L535.4 468.7 L536.4 469.4 L537.4 469.4 L538.4 470.3 L539.4 470.6 L540.5 470.5 L541.5 471.9 L542.6 471.7 L543.6 472.2 L544.7 472 L545.8 472.3 L546.8 472 L547.9 473.6 L548.9 474 L550 474.5 L551.1 475.7 L552.2 476 L553.3 475.6 L554.4 476 L555.5 475.6 L556.6 476.7 L557.7 477.2 L558.8 477.1 L559.9 477.7 L561 477.4 L562.1 479.6 L563.2 478.4 L564.3 480.7 L565.4 480.8 L566.5 481.5 L567.6 480.3 L568.7 481.8 L569.8 481.7 L570.9 481.2 L572 482.4 L573.1 482 L574.2 483 L575.4 483.6 L576.5 485.1 L577.6 485.6 L578.7 485 L579.8 485.6 L580.9 485.8 L582 485.7 L583.1 485.9 L584.2 485.7 L585.3 487.2 L586.4 488.1 L587.5 487.5 L588.6 488.6 L589.7 488.6 L590.8 488 L591.9 488.2 L593 488.6 L594.1 489.7 L595.2 488.8 L596.3 489.9 L597.4 489.2 L598.5 488.8 L599.6 489.6 L600.7 488.3 L601.8 489.5 L602.9 489.3 L604 490.7 L605.1 490.5 L606.2 489.2 L607.3 491 L608.4 490.9 L609.5 490.6 L610.6 488.7 L611.7 490.1 L612.8 491 L613.9 489.8 L615 490.5 L616.1 491.4 L617.2 491.3 L618.3 491.5 L619.4 491.2 L620.5 491.6 L621.5 490.5 L622.6 492.8 L623.6 491.4 L624.7 492.5 L625.8 490.7 L626.8 491.3 L627.9 491.1 L629 490.7 L630 490.9 L631.1 490.8 L632.1 491.2 L633.2 490.5 L634.3 490.9 L635.4 490.8 L636.5 491.2 L637.6 491.9 L638.7 491 L639.9 491.5 L641 491.2 L642.1 489.8 L643.2 490.7 L644.3 490.7 L645.4 490.5 L646.5 491.5 L647.6 491.2 L648.7 490.4 L649.8 491.9 L650.9 491.3 L652 492.6 L653.1 492.1 L654.2 490.9 L655.3 491.7 L656.4 492 L657.5 491.5 L658.6 491.8 L659.7 492 L660.8 491.4 L661.9 491.7 L663 492.5 L664.1 492.2 L665.2 493.3 L666.3 491.1 L667.4 492.1 L668.5 492.5 L669.6 493.6 L670.7 493.6 L671.8 493.5 L672.9 493 L674 493.6 L675.1 493.6 L676.2 493.5 L677.3 492.9 L678.4 493.2 L679.5 492.5 L680.6 492.9 L681.7 493.3 L682.8 492.7 L683.9 493.1 L685 492.7 L686.1 493 L687.2 492.1 L688.2 492 L689.3 493.5 L690.4 493.1 L691.4 493.6 L692.5 493 L693.6 493 L694.7 493.2 L695.7 492.8 L696.8 493.6 L697.9 493.6 L698.9 493.3 L700 493" stroke="#008a00" stroke-width="2.8" fill="none" stroke-linejoin="round"/>
<text x="216.9" y="209.9" font-size="15" font-weight="bold" fill="#f00">MP2</text>
<text x="164.0" y="270.3" font-size="15" font-weight="bold" fill="#000">P1</text>
<text x="218.7" y="334.3" font-size="15" font-weight="bold" fill="#000">MP1</text>
<text x="219.2" y="455.4" font-size="15" font-weight="bold" fill="#f00">P2</text>
<text x="484.7" y="219.9" font-size="15" font-weight="bold" fill="#008a00">P3</text>
<text x="493.0" y="438.8" font-size="15" font-weight="bold" fill="#008a00">MP3</text>
</svg></body></html>
